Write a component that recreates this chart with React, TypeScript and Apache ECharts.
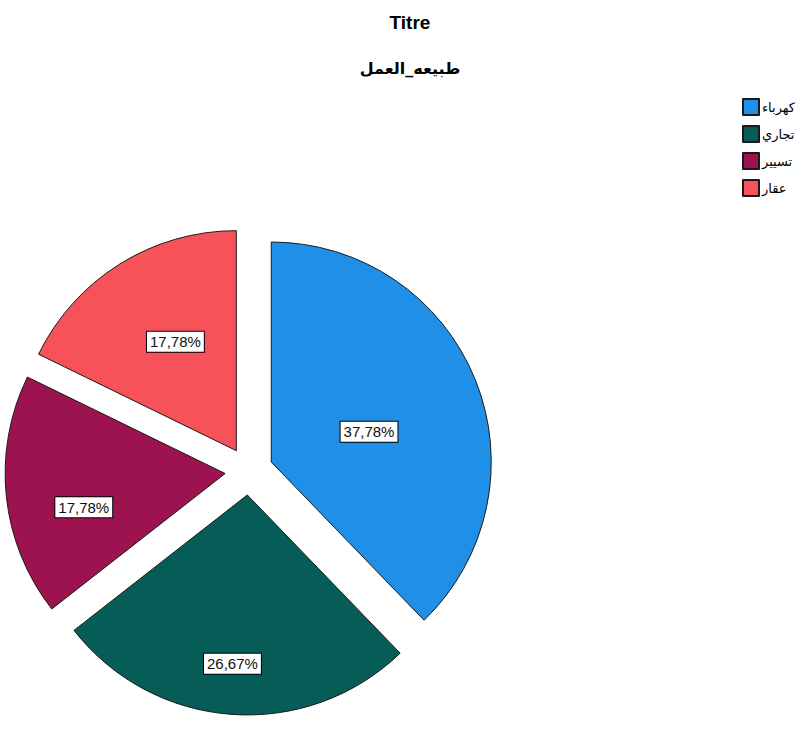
import React, { useEffect, useRef } from "react";
import * as echarts from "echarts";

const categories = ["كهرباء", "تجاري", "تسيير", "عقار"];
const counts = [17, 12, 8, 8];
const colors = ["#1f8fe8", "#065c57", "#9c1350", "#f7525a"];
// label nudges (style only), keyed by category
const labelShift: Record<string, number[]> = {
  "كهرباء": [-7, 12],
  "تجاري": [-7, 56],
  "تسيير": [-29, 22],
  "عقار": [-1, -13],
};

export default function App() {
  const ref = useRef<HTMLDivElement>(null);
  useEffect(() => {
    document.body.style.margin = "0";
    const total = counts.reduce((a, b) => a + b, 0);
    const chart = echarts.init(ref.current!, null, { renderer: "svg" });
    chart.setOption({
      animation: false,
      backgroundColor: "#ffffff",
      title: [
        {
          text: "Titre",
          left: 405,
          top: 8,
          textAlign: "center",
          textStyle: { fontFamily: "Liberation Sans, Arial", fontSize: 19, fontWeight: "bold", color: "#000" },
        },
        {
          text: "طبيعه_العمل",
          left: 405,
          top: 55,
          textAlign: "center",
          textStyle: { fontFamily: "DejaVu Sans, Noto Sans", fontSize: 16, fontWeight: "bold", color: "#000" },
        },
      ],
      legend: {
        orient: "vertical",
        left: 737,
        top: 93,
        itemWidth: 16,
        itemHeight: 16,
        itemGap: 9,
        icon: "rect",
        selectedMode: false,
        textStyle: { fontFamily: "DejaVu Sans, Noto Sans", fontSize: 13, color: "#000", padding: [0, 0, 0, -2] },
        data: categories,
      },
      series: [
        {
          type: "pie",
          center: [249, 471],
          radius: 220,
          startAngle: 90,
          clockwise: true,
          selectedMode: "multiple",
          selectedOffset: 24,
          itemStyle: { borderColor: "#1a1a1a", borderWidth: 1 },
          label: {
            show: true,
            position: "inside",
            formatter: (p: any) => ((p.value / total) * 100).toFixed(2).replace(".", ",") + "%",
            fontFamily: "Liberation Sans, Arial",
            fontSize: 15,
            color: "#111",
            backgroundColor: "#ffffff",
            borderColor: "#000",
            borderWidth: 1,
            padding: [3, 3, 2, 3],
          },
          labelLayout: (p: any) => {
            const name = chart.getModel().getSeriesByIndex(0).getData().getName(p.dataIndex);
            const s = labelShift[name] || [0, 0];
            return { dx: s[0], dy: s[1] };
          },
          labelLine: { show: false },
          emphasis: { disabled: true },
          data: categories.map((c, i) => ({
            name: c,
            value: counts[i],
            selected: true,
            itemStyle: { color: colors[i] },
          })),
        },
      ],
    });
    return () => chart.dispose();
  }, []);
  return <div ref={ref} style={{ width: 806, height: 751 }} />;
}
